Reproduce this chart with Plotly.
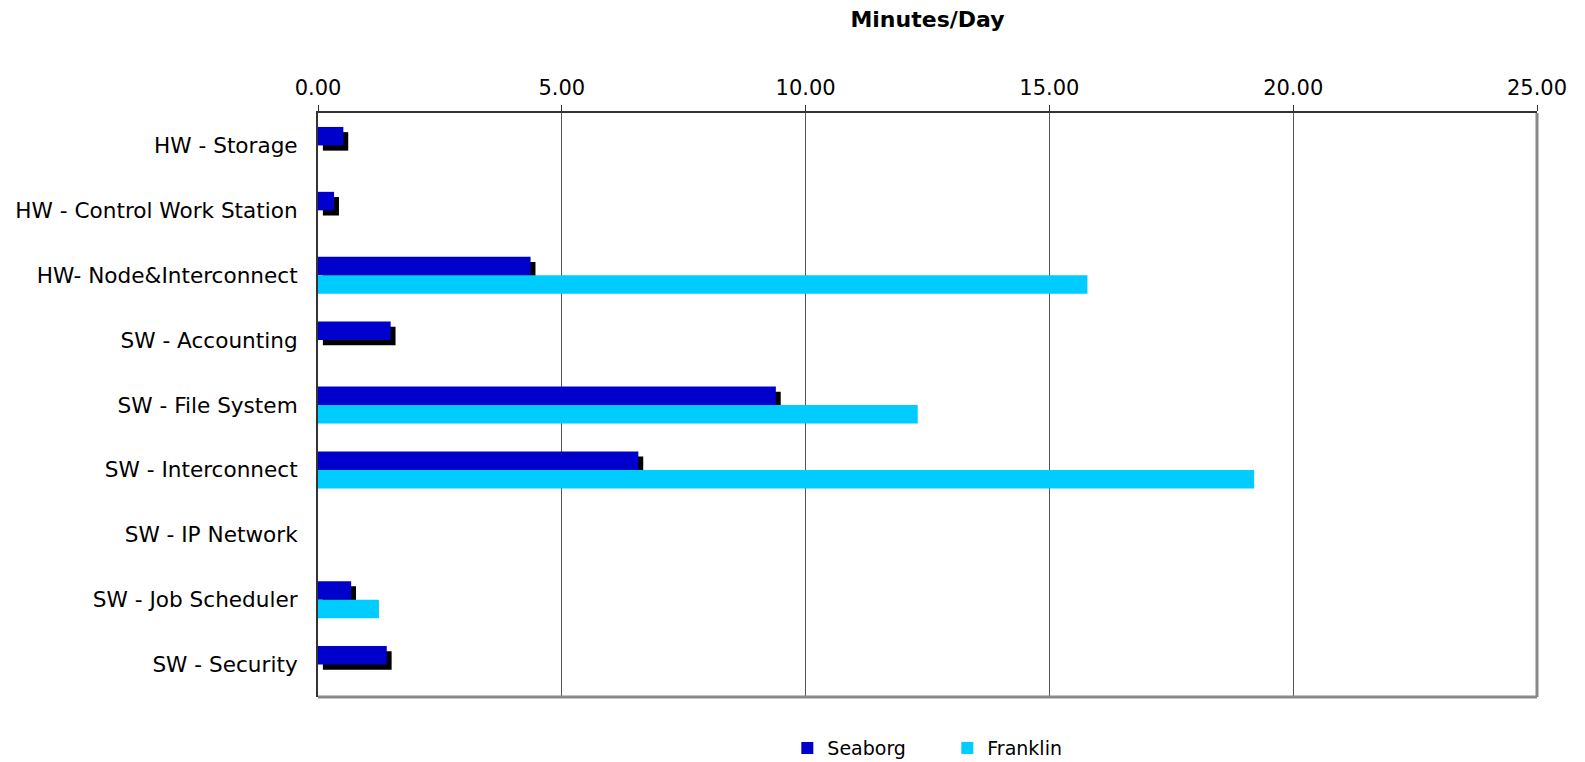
import plotly.graph_objects as go

categories = [
    "HW - Storage",
    "HW - Control Work Station",
    "HW- Node&Interconnect",
    "SW - Accounting",
    "SW - File System",
    "SW - Interconnect",
    "SW - IP Network",
    "SW - Job Scheduler",
    "SW - Security",
]
seaborg = [0.52, 0.33, 4.36, 1.49, 9.39, 6.57, None, 0.68, 1.41]
franklin = [None, None, 15.78, None, 12.30, 19.20, None, 1.25, None]
tick_vals = [0, 5, 10, 15, 20, 25]

FONT = "DejaVu Sans"
BAR_W = 0.285        # bar thickness in category units
SHADOW_DX = 0.10     # drop-shadow shift along value axis
SHADOW_DY = 0.08     # drop-shadow shift across categories

fig = go.Figure()

# drop shadow behind the Seaborg bars
fig.add_trace(go.Bar(
    y=categories, x=seaborg, orientation="h",
    base=SHADOW_DX, width=BAR_W, offset=-BAR_W + SHADOW_DY,
    marker=dict(color="#000000", line=dict(width=0)),
    showlegend=False, hoverinfo="skip",
))
fig.add_trace(go.Bar(
    y=categories, x=seaborg, orientation="h", name="Seaborg",
    width=BAR_W, offset=-BAR_W,
    marker=dict(color="#0000CC", line=dict(width=0)),
))
fig.add_trace(go.Bar(
    y=categories, x=franklin, orientation="h", name="Franklin",
    width=BAR_W, offset=0,
    marker=dict(color="#00CCFF", line=dict(width=0)),
))

fig.update_layout(
    width=1585, height=762,
    barmode="overlay",
    plot_bgcolor="white", paper_bgcolor="white",
    margin=dict(l=318, r=48, t=113, b=65, autoexpand=False),
    font=dict(family=FONT, size=20, color="#000000"),
    title=dict(
        text="<b>Minutes/Day</b>", x=0.5, xref="paper", xanchor="center",
        y=1 - 19 / 762, yanchor="middle",
        font=dict(family=FONT, size=22, color="#000000"),
    ),
    legend=dict(
        orientation="h", x=0.385, xanchor="left", y=-0.055, yanchor="top",
        font=dict(family=FONT, size=19, color="#000000"),
        itemwidth=30, traceorder="normal",
        entrywidth=115, entrywidthmode="pixels",
    ),
    xaxis=dict(
        side="top", range=[0, 25], tickvals=tick_vals, tickformat=".2f",
        showgrid=True, gridcolor="#555555", gridwidth=1,
        showline=True, linecolor="#333333", linewidth=2,
        ticks="outside", ticklen=6, tickcolor="#333333", tickwidth=1,
        ticklabelstandoff=2, zeroline=False,
        tickfont=dict(family=FONT, size=21, color="#000000"),
        fixedrange=True,
    ),
    yaxis=dict(
        autorange="reversed", categoryorder="array", categoryarray=categories,
        showline=True, linecolor="#333333", linewidth=2,
        ticks="", ticklabelstandoff=14, showgrid=False,
        tickfont=dict(family=FONT, size=21.6, color="#000000"),
        fixedrange=True,
    ),
)

# grey right and bottom edges of the plot frame
fig.add_shape(type="line", xref="paper", yref="paper", x0=1, x1=1, y0=0, y1=1,
              line=dict(color="#888888", width=3))
fig.add_shape(type="line", xref="paper", yref="paper", x0=0, x1=1, y0=0, y1=0,
              line=dict(color="#888888", width=3))

fig.write_html("out.html")
